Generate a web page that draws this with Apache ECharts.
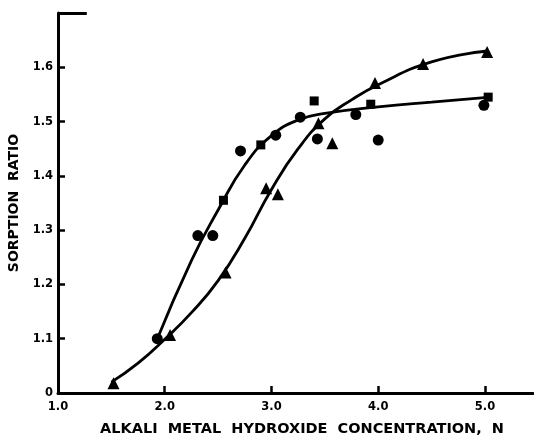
<!DOCTYPE html>
<html>
<head>
<meta charset="utf-8">
<script src="https://cdn.jsdelivr.net/npm/echarts@6/dist/echarts.min.js"></script>
<style>
html,body{margin:0;padding:0;background:#fff;}
#c{width:534px;height:436px;}
</style>
</head>
<body>
<div id="c"></div>
<script>
// ---- data ----
const circlePts = [[1.93,1.100],[2.31,1.290],[2.45,1.290],[2.71,1.446],[3.04,1.475],[3.27,1.508],[3.43,1.468],[3.79,1.513],[4.00,1.466],[4.99,1.530]];
const squarePts = [[2.55,1.355],[2.90,1.457],[3.40,1.538],[3.93,1.532],[5.03,1.545]];
const trianglePts = [[1.52,1.018],[2.05,1.107],[2.57,1.222],[2.95,1.377],[3.06,1.366],[3.44,1.497],[3.57,1.460],[3.97,1.571],[4.42,1.606],[5.02,1.628]];
// fitted curves as traced on the reference
const curveA = [[1.92,1.095],[2.25,1.244],[2.50,1.337],[2.75,1.420],[3.00,1.474],[3.25,1.503],[3.50,1.515],[4.00,1.527],[4.50,1.536],[5.05,1.545]];
const curveB = [[1.50,1.020],[1.75,1.055],[2.00,1.099],[2.25,1.148],[2.50,1.207],[2.75,1.285],[3.00,1.375],[3.25,1.450],[3.50,1.505],[3.75,1.540],[4.00,1.568],[4.50,1.610],[5.02,1.630]];
const xTickValues = [1, 2, 3, 4, 5];
const xTickLabels = ['1.0', '2.0', '3.0', '4.0', '5.0'];
const yTickValues = [1.0, 1.1, 1.2, 1.3, 1.4, 1.5, 1.6];
const yTickLabels = ['0', '1.1', '1.2', '1.3', '1.4', '1.5', '1.6'];
const topStub = [1.0, 1.27, 1.7];
const xTitle = 'ALKALI  METAL  HYDROXIDE  CONCENTRATION,  N';
const yTitle = 'SORPTION  RATIO';

const FONT = 'DejaVu Sans';
function lookup(vals, labels, v) {
  for (let i = 0; i < vals.length; i++) if (Math.abs(vals[i] - v) < 1e-6) return labels[i];
  return '';
}
const chart = echarts.init(document.getElementById('c'), null, {renderer: 'canvas'});
const lineSeries = (data) => ({
  type: 'line', data: data, smooth: 0.5, showSymbol: false, silent: true,
  lineStyle: {color: '#000', width: 2.8}, z: 2
});
const dot = (data, symbol, size) => ({
  type: 'scatter', data: data, symbol: symbol, symbolSize: size, silent: true,
  itemStyle: {color: '#000', opacity: 1}, z: 3
});
chart.setOption({
  animation: false,
  backgroundColor: '#fff',
  grid: {left: 58, top: 13, right: 1, bottom: 43, containLabel: false, outerBoundsMode: 'none'},
  xAxis: {
    type: 'value', min: 1, max: 5.45, interval: 1,
    name: xTitle, nameLocation: 'middle', nameGap: 29,
    nameTextStyle: {fontFamily: FONT, fontWeight: 'bold', fontSize: 14.5, color: '#000', padding: [0, 0, 0, 13]},
    axisLine: {show: true, lineStyle: {color: '#000', width: 3}},
    axisTick: {show: true, inside: true, length: 7, lineStyle: {color: '#000', width: 2.5}, customValues: xTickValues.slice(1)},
    axisLabel: {fontFamily: FONT, fontWeight: 'bold', fontSize: 11.5, color: '#000', margin: 8,
      customValues: xTickValues, formatter: v => lookup(xTickValues, xTickLabels, v)},
    splitLine: {show: false}
  },
  yAxis: {
    type: 'value', min: 1.0, max: 1.7, interval: 0.1,
    name: yTitle, nameLocation: 'middle', nameGap: 33, nameRotate: 90,
    nameTextStyle: {fontFamily: FONT, fontWeight: 'bold', fontSize: 14, color: '#000'},
    axisLine: {show: true, lineStyle: {color: '#000', width: 3}},
    axisTick: {show: true, inside: true, length: 7, lineStyle: {color: '#000', width: 2.5}, customValues: yTickValues.slice(1)},
    axisLabel: {fontFamily: FONT, fontWeight: 'bold', fontSize: 11.5, color: '#000', margin: 5,
      customValues: yTickValues, formatter: v => lookup(yTickValues, yTickLabels, v)},
    splitLine: {show: false}
  },
  series: [
    Object.assign(lineSeries(curveA), {
      markLine: {
        silent: true, symbol: 'none', label: {show: false},
        lineStyle: {color: '#000', width: 3, type: 'solid'},
        data: [[{coord: [topStub[0], topStub[2]]}, {coord: [topStub[1], topStub[2]]}]]
      }
    }),
    lineSeries(curveB),
    dot(circlePts, 'circle', 11),
    dot(squarePts, 'rect', 9),
    dot(trianglePts, 'triangle', 12)
  ]
});
</script>
</body>
</html>
